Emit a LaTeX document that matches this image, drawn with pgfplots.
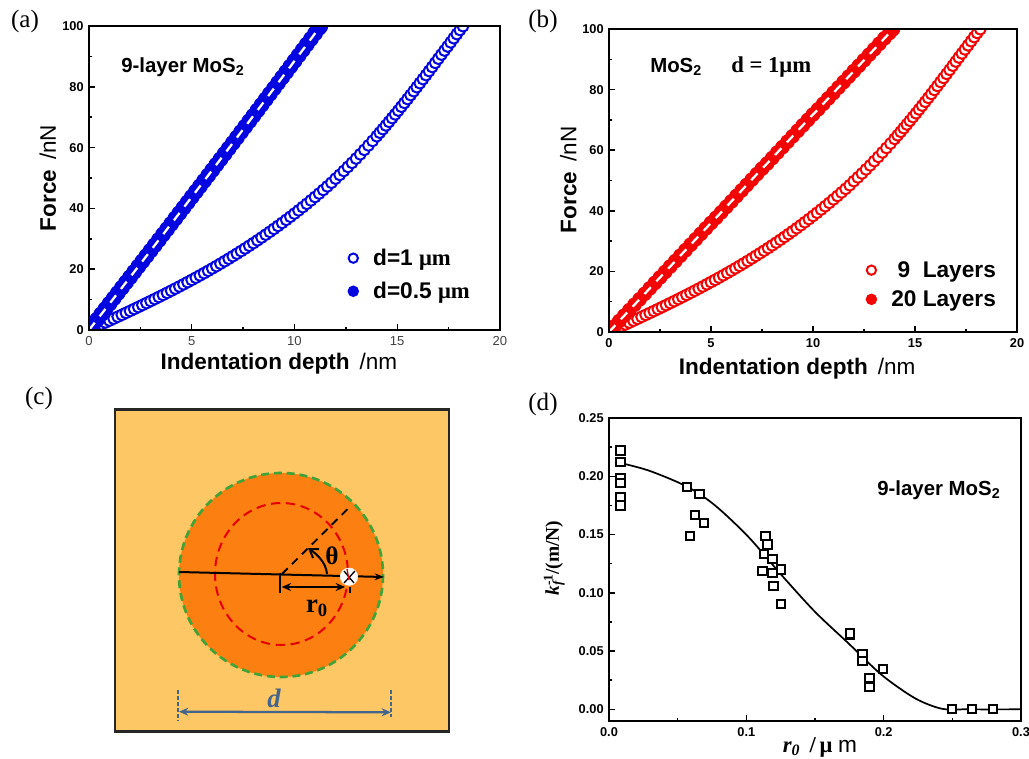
\documentclass[border=0pt]{standalone}
\usepackage{fontspec}
\usepackage{pgfplots}
\usepackage{pgfplotstable}
\pgfplotsset{compat=1.18}
\usetikzlibrary{arrows.meta}
\setmainfont{Liberation Sans}
\newfontfamily\ser{Liberation Serif}
\newcommand{\fs}[1]{\fontsize{#1pt}{#1pt}\selectfont}
\definecolor{cblue}{HTML}{0505E0}
\definecolor{cred}{HTML}{F20505}
\definecolor{lightor}{HTML}{FDC765}
\definecolor{deepor}{HTML}{FC7F12}
\definecolor{dgreen}{HTML}{3FA338}
\definecolor{steel}{HTML}{44658C}

\pgfplotstableread{
x F
0.2 0.62
0.4 1.24
0.6 1.87
0.8 2.49
1.0 3.11
1.2 3.74
1.4 4.37
1.6 5.00
1.8 5.64
2.0 6.27
2.2 6.92
2.4 7.56
2.6 8.21
2.8 8.87
3.0 9.53
3.2 10.19
3.4 10.87
3.6 11.54
3.8 12.23
4.0 12.92
4.2 13.61
4.4 14.32
4.6 15.03
4.8 15.75
5.0 16.48
5.2 17.21
5.4 17.96
5.6 18.71
5.8 19.48
6.0 20.25
6.2 21.03
6.4 21.83
6.6 22.63
6.8 23.45
7.0 24.28
7.2 25.12
7.4 25.97
7.6 26.83
7.8 27.71
8.0 28.60
8.2 29.50
8.4 30.42
8.6 31.36
8.8 32.30
9.0 33.26
9.2 34.24
9.4 35.23
9.6 36.24
9.8 37.26
10.0 38.30
10.2 39.36
10.4 40.43
10.6 41.52
10.8 42.63
11.0 43.76
11.2 44.90
11.4 46.07
11.6 47.25
11.8 48.45
12.0 49.80
12.2 51.03
12.4 52.32
12.6 53.66
12.8 55.00
13.0 56.40
13.2 57.80
13.4 59.26
13.6 60.73
13.8 62.20
14.0 63.74
14.15 64.92
14.3 66.08
14.45 67.29
14.6 68.49
14.75 69.72
14.9 70.94
15.05 72.19
15.2 73.46
15.35 74.72
15.5 75.99
15.65 77.29
15.8 78.57
15.95 79.89
16.1 81.21
16.25 82.53
16.4 83.85
16.55 85.19
16.7 86.53
16.85 87.89
17.0 89.26
17.15 90.60
17.3 91.94
17.45 93.27
17.6 94.62
17.75 95.99
17.9 97.34
18.05 98.70
18.2 99.95
}\tabnine

\pgfplotstableread{
x F
0 0
0.2 1.73
0.4 3.46
0.6 5.20
0.8 6.93
1.0 8.67
1.2 10.41
1.4 12.15
1.6 13.89
1.8 15.64
2.0 17.38
2.2 19.13
2.4 20.88
2.6 22.63
2.8 24.38
3.0 26.13
3.2 27.88
3.4 29.64
3.6 31.40
3.8 33.16
4.0 34.92
4.2 36.68
4.4 38.45
4.6 40.21
4.8 41.98
5.0 43.75
5.2 45.52
5.4 47.29
5.6 49.07
5.8 50.84
6.0 52.62
6.2 54.40
6.4 56.18
6.6 57.96
6.8 59.74
7.0 61.53
7.2 63.32
7.4 65.11
7.6 66.90
7.8 68.69
8.0 70.48
8.2 72.27
8.4 74.07
8.6 75.87
8.8 77.67
9.0 79.47
9.2 81.27
9.4 83.08
9.6 84.88
9.8 86.69
10.0 88.50
10.2 90.31
10.4 92.12
10.6 93.94
10.8 95.75
11.0 97.57
11.2 99.39
11.26 99.95
}\tabhalf

\pgfplotstableread{
x F
0 0
0.25 1.8
0.5 3.6
0.75 5.4
1.0 7.2
1.25 9.0
1.5 10.8
1.75 12.6
2.0 14.4
2.25 16.2
2.5 18.0
2.75 19.8
3.0 21.6
3.25 23.4
3.5 25.2
3.75 27.0
4.0 28.8
4.25 30.6
4.5 32.4
4.75 34.2
5.0 36.0
5.25 37.7
5.5 39.5
5.75 41.3
6.0 43.1
6.25 44.9
6.5 46.7
6.75 48.5
7.0 50.3
7.25 52.1
7.5 53.9
7.75 55.6
8.0 57.4
8.25 59.2
8.5 61.0
8.75 62.8
9.0 64.6
9.25 66.4
9.5 68.2
9.75 70.0
10.0 71.8
10.25 73.5
10.5 75.3
10.75 77.1
11.0 78.9
11.25 80.7
11.5 82.5
11.75 84.3
12.0 86.1
12.25 87.9
12.5 89.7
12.75 91.5
13.0 93.3
13.25 95.1
13.5 96.9
13.75 98.7
13.92 99.95
}\tabtwenty

\pgfplotstableread{
x y
0.0083 0.222
0.0083 0.212
0.0083 0.198
0.0083 0.194
0.0083 0.182
0.0083 0.175
0.057 0.191
0.0658 0.185
0.0624 0.167
0.069 0.160
0.059 0.149
0.114 0.149
0.1154 0.1414
0.1127 0.133
0.119 0.129
0.1117 0.119
0.119 0.117
0.125 0.120
0.1197 0.106
0.125 0.0906
0.1756 0.0643
0.1756 0.0651
0.1846 0.047
0.1846 0.0417
0.1997 0.0349
0.1897 0.0271
0.1897 0.0189
0.2495 0
0.2645 0
0.2796 0
}\tabd

\pgfplotstableread{
x y
0.0044 0.2125
0.0287 0.205
0.057 0.191
0.0772 0.175
0.1015 0.148
0.1258 0.115
0.150 0.0837
0.1744 0.0566
0.1987 0.0294
0.223 0.0094
0.2424 0.0005
0.26 0
0.30 0
}\tabfit

\pgfplotsset{
  panel/.style={
    scale only axis, axis on top, clip marker paths=true,
    axis line style={line width=1.5pt},
    tick style={black,line width=1.1pt},
    tick align=inside, xtick pos=bottom, ytick pos=left,
    major tick length=4.5pt, minor tick length=2.6pt,
    minor x tick num=1, minor y tick num=1,
    /pgf/number format/assume math mode=true,
    tick label style={font=\bfseries\fs{9.6}},
    xticklabel style={yshift=-1.5pt},
    yticklabel style={xshift=-0.5pt},
    legend cell align=left,
    legend style={draw=none,fill=none,font=\bfseries\fs{17}},
  },
  force/.style={
    panel, xmin=0,xmax=20,ymin=0,ymax=100,
    xtick={0,5,10,15,20}, ytick={0,20,40,60,80,100},
  },
  forcelabels/.style={
    xlabel={\bfseries\fs{16.9}Indentation depth  {\mdseries\,/nm}},
    ylabel={\bfseries\fs{16.9}Force  {\mdseries\,/nN}},
  },
  openm/.style={only marks,mark=*,mark size=4.1pt,draw=#1,
    mark options={draw=#1,fill=white,solid,line width=1.5pt},
    legend image post style={mark size=3.5pt}},
  fullm/.style={only marks,mark=*,draw=#1,
    mark options={draw=#1,fill=#1,solid,line width=0.8pt},
    legend image post style={mark size=3.9pt}},
  whitedash/.style={no marks,white,line width=1.7pt,dash pattern=on 7pt off 6pt},
}

\begin{document}
\begin{tikzpicture}
\path[use as bounding box] (0,0) rectangle (771.75pt,568.5pt);

% (a)
\begin{axis}[force,forcelabels,at={(66.75pt,321pt)},anchor=south west,width=308.25pt,height=228pt,
  xlabel style={at={(axis description cs:0.462,-0.112)},anchor=center},
  ylabel style={at={(axis description cs:-0.1,0.5)},anchor=center},
  xticklabel style={font=\fs{9.8},text=black!75},
  legend style={at={(axis description cs:0.62,0.285)},anchor=north west,row sep=7pt}]
\addplot[openm=cblue] table[x=x,y=F] {\tabnine};
\addlegendentry{\hspace*{9pt}d=1 {\ser μm}}
\addplot[fullm=cblue,mark size=5.5pt] table[x=x,y=F] {\tabhalf};
\addlegendentry{\hspace*{9pt}d=0.5 {\ser μm}}
\addplot[whitedash,forget plot] table[x=x,y=F] {\tabhalf};
\end{axis}

% (b)
\begin{axis}[force,forcelabels,at={(456.75pt,319.5pt)},anchor=south west,width=306pt,height=227.25pt,
  xlabel style={at={(axis description cs:0.461,-0.122)},anchor=center},
  ylabel style={at={(axis description cs:-0.1,0.502)},anchor=center},
  legend style={at={(axis description cs:0.62,0.252)},anchor=north west,row sep=4.5pt}]
\addplot[openm=cred] table[x=x,y=F] {\tabnine};
\addlegendentry{\hspace*{9pt}\ 9  \ Layers}
\addplot[fullm=cred,mark size=5.1pt] table[x=x,y=F] {\tabtwenty};
\addlegendentry{\hspace*{9pt}20 Layers}
\addplot[whitedash,forget plot] table[x=x,y=F] {\tabtwenty};
\end{axis}

% (d)
\begin{axis}[panel,at={(456.75pt,27.75pt)},anchor=south west,width=309pt,height=227.25pt,
  xmin=0,xmax=0.3,ymin=-0.01,ymax=0.25,
  xtick={0,0.1,0.2,0.3}, ytick={0,0.05,0.10,0.15,0.20,0.25},
  scaled ticks=false,
  xticklabel style={/pgf/number format/fixed,/pgf/number format/fixed zerofill,/pgf/number format/precision=1},
  yticklabel style={/pgf/number format/fixed,/pgf/number format/fixed zerofill,/pgf/number format/precision=2},
  xlabel={\ser\bfseries\fs{17}{\itshape r\textsubscript{0}}\ \,/\,{μ} {\mdseries\fontspec{Liberation Sans}m}},
  ylabel={\ser\bfseries\fs{14.6}{\itshape k\rlap{\raisebox{-.35ex}{\fs{10}f}}}\raisebox{.7ex}{\fs{10}-1}/(m/N)},
  xlabel style={at={(axis description cs:0.512,-0.086)},anchor=center},
  ylabel style={at={(axis description cs:-0.133,0.538)},anchor=center}]
\addplot[black,line width=1.3pt,smooth,no marks] table[x=x,y=y] {\tabfit};
\addplot[only marks,mark=square*,mark size=3.1pt,mark options={draw=black,fill=white,line width=1.5pt}] table[x=x,y=y] {\tabd};
\end{axis}

% annotations and schematic, coordinates in reference pixels
\begin{scope}[shift={(0,568.5pt)},x=0.75pt,y=-0.75pt]
  \node[font=\ser\fs{18.8}] at (25,21) {(a)};
  \node[font=\ser\fs{18.8}] at (543,21) {(b)};
  \node[font=\ser\fs{18.8}] at (39,398) {(c)};
  \node[font=\ser\fs{18.8}] at (543,404) {(d)};
  \node[font=\bfseries\fs{15.3},anchor=west,inner sep=0] at (121,67) {9-layer MoS\textsubscript{2}};
  \node[font=\bfseries\fs{15.3},anchor=west,inner sep=0] at (650,67) {MoS\textsubscript{2}};
  \node[font=\ser\bfseries\fs{17},anchor=west,inner sep=0] at (731,67) {d = 1μm};
  \node[font=\bfseries\fs{15.3},anchor=west,inner sep=0] at (877,490) {9-layer MoS\textsubscript{2}};

  % (c)
  \filldraw[fill=lightor,draw=black!85,line width=1.9pt] (115,409.5) rectangle (449,731.5);
  \filldraw[fill=deepor,draw=dgreen,line width=2pt,dash pattern=on 6pt off 3.6pt] (281,575) circle [radius=102];
  \draw[red!90!black,line width=1.5pt,dash pattern=on 7pt off 4.2pt] (281.5,574) ellipse [x radius=66.5,y radius=71];
  \draw[black,line width=1.4pt,dash pattern=on 6pt off 4.5pt] (282,574) -- (350,506.7);
  \draw[black,line width=1.5pt,-{Stealth[length=7pt,width=5pt]}] (179,572) -- (384,577);
  \filldraw[fill=white,draw=white] (349,576.7) circle [radius=8.7];
  \draw[black,line width=1pt] (344,583) -- (355,571) (344,571) -- (354,583);
  \draw[red!85!black,line width=1pt] (347,569) -- (349,580);
  \draw[black,line width=1.5pt,-{Straight Barb[length=6pt,width=8pt]}] (327,574) .. controls (326,563) and (318,555) .. (308,548);
  \draw[black,line width=1.5pt,{Stealth[length=7pt,width=6pt]}-{Stealth[length=7pt,width=6pt]}] (281.7,587) -- (345,587);
  \draw[black,line width=1.5pt] (279.5,573) -- (279.5,593);
  \draw[black,line width=1.4pt] (350,587) -- (350,593);
  \node[font=\ser\bfseries\fs{19}] at (332,556) {θ};
  \node[font=\ser\bfseries\fs{20}] at (317,608) {r\textsubscript{0}};
  \draw[steel,line width=1.4pt,dash pattern=on 3pt off 1.5pt] (178.3,690) -- (178.3,721) (391,690) -- (391,717);
  \draw[steel,line width=1.7pt,{Stealth[length=7pt,width=6pt]}-{Stealth[length=7pt,width=6pt]}] (179,711.7) -- (391,712.3);
  \node[font=\ser\bfseries\itshape\fs{20},text=steel] at (274,698) {d};
\end{scope}
\end{tikzpicture}
\end{document}
